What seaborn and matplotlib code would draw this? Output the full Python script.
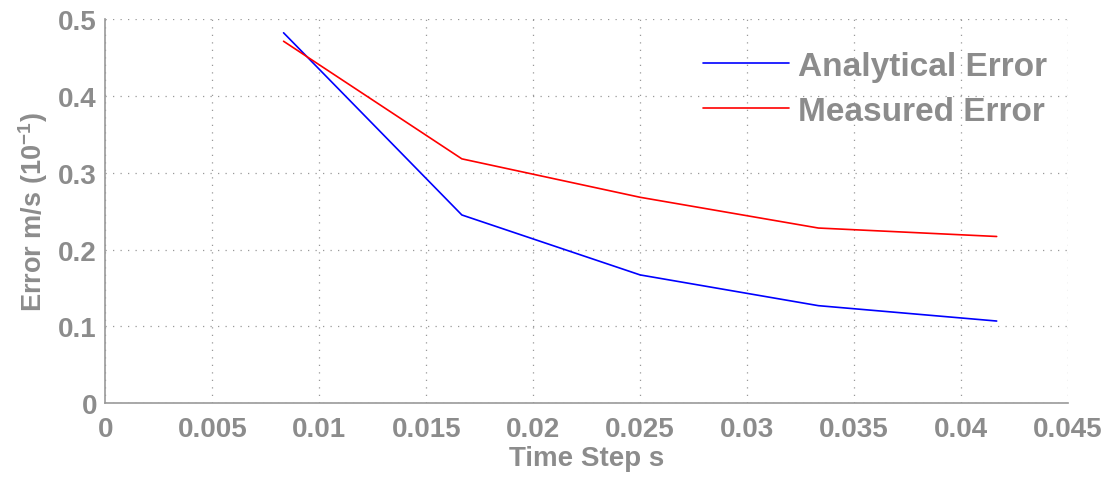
import numpy as np
import pandas as pd
import matplotlib
matplotlib.use('Agg')
import matplotlib.pyplot as plt
import seaborn as sns

# time steps (1/120 ... 5/120 s)
time_step = [0.008333, 0.016667, 0.025, 0.033333, 0.041667]
analytical_error = [0.482, 0.245, 0.167, 0.127, 0.107]
measured_error = [0.471, 0.318, 0.268, 0.228, 0.217]
x_ticks = [0, 0.005, 0.01, 0.015, 0.02, 0.025, 0.03, 0.035, 0.04, 0.045]
x_tick_labels = ['0', '0.005', '0.01', '0.015', '0.02', '0.025', '0.03', '0.035', '0.04', '0.045']
y_ticks = [0, 0.1, 0.2, 0.3, 0.4, 0.5]
y_tick_labels = ['0', '0.1', '0.2', '0.3', '0.4', '0.5']

df = pd.DataFrame({
    'time_step': time_step * 2,
    'error': analytical_error + measured_error,
    'series': ['Analytical Error'] * 5 + ['Measured Error'] * 5,
})

sns.set_style('white')
plt.rcParams['font.family'] = ['Liberation Sans', 'DejaVu Sans']
plt.rcParams['font.weight'] = 'bold'
plt.rcParams['mathtext.fontset'] = 'custom'
plt.rcParams['mathtext.rm'] = 'Liberation Sans:bold'
plt.rcParams['mathtext.default'] = 'rm'

grey = '#8c8c8c'

fig = plt.figure(figsize=(11.12, 4.81), dpi=100)
ax = fig.add_axes([0.0947, 0.1595, 0.8657, 0.799])

sns.lineplot(data=df, x='time_step', y='error', hue='series',
             palette={'Analytical Error': '#0000ff', 'Measured Error': '#ff0000'},
             linewidth=1.2, ax=ax, legend=False)

ax.set_xlim(0, 0.045)
ax.set_ylim(0, 0.5)
ax.set_xticks(x_ticks)
ax.set_xticklabels(x_tick_labels)
ax.set_yticks(y_ticks)
ax.set_yticklabels(y_tick_labels)

ax.grid(True, linestyle=(0, (1, 5)), color='#999999', linewidth=0.9)
for side in ['top', 'right']:
    ax.spines[side].set_visible(False)
for side in ['left', 'bottom']:
    ax.spines[side].set_color('#999999')
    ax.spines[side].set_linewidth(1.2)

ax.tick_params(axis='both', direction='in', length=7, width=1, color='#999999',
               labelsize=20, labelcolor=grey)
ax.tick_params(axis='x', pad=9)
ax.tick_params(axis='y', pad=6)

ax.set_xlabel('Time Step s', fontsize=20, color=grey, fontweight='bold', labelpad=2)
ax.set_ylabel('Error m/s (10$^{-1}$)', fontsize=19.5, color=grey, fontweight='bold', labelpad=6)

lines = ax.get_lines()
leg = ax.legend(lines[:2], ['Analytical Error', 'Measured Error'], loc='upper right',
                bbox_to_anchor=(1.009, 0.995), frameon=False, fontsize=24,
                handlelength=2.6, handletextpad=0.25, labelspacing=0.42)
for t in leg.get_texts():
    t.set_color(grey)
    t.set_fontweight('bold')

fig.savefig('out.png', dpi=100)
